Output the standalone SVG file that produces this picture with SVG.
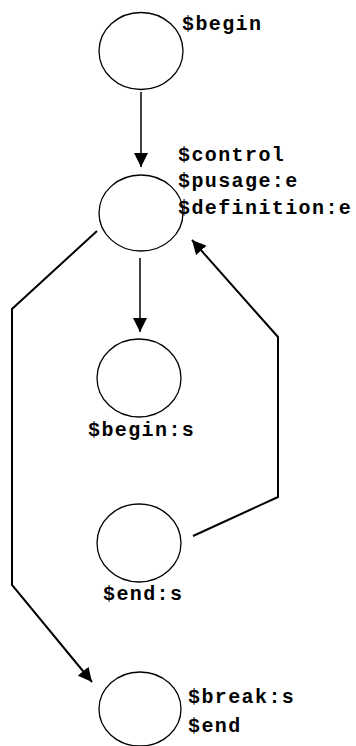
<svg xmlns="http://www.w3.org/2000/svg" width="356" height="746" viewBox="0 0 356 746">
<style>
.node ellipse{fill:#fff;stroke:#000;stroke-width:1.3}
.lbl{font-family:"Liberation Mono","Courier New",monospace;font-weight:bold;font-size:20px;letter-spacing:1.4px;fill:#000}
.edge{fill:none;stroke:#000;stroke-width:2}
.thin{stroke-width:1.5}
</style>
<defs>
<marker id="ah" markerUnits="userSpaceOnUse" markerWidth="15" markerHeight="14" refX="14" refY="7" orient="auto" viewBox="0 0 15 14">
<path d="M0,0 L14,7 L0,14 Z" fill="#000"/>
</marker>
</defs>
<rect width="356" height="746" fill="#fff"/>
<g id="connectors">
<path class="edge thin" d="M141,92 L141,167" marker-end="url(#ah)"/>
<path class="edge thin" d="M140,258 L140,332" marker-end="url(#ah)"/>
<path class="edge" d="M193,536 L278,497 L278,337 L192,240" marker-end="url(#ah)"/>
<path class="edge" d="M97,231 L12,309 L12,585 L92,682" marker-end="url(#ah)"/>
</g>
<g id="n_begin" class="node">
<ellipse cx="141" cy="51" rx="42" ry="38.5"/>
<text class="lbl" x="182" y="30">$begin</text>
</g>
<g id="n_control" class="node">
<ellipse cx="141" cy="213" rx="42" ry="38"/>
<text class="lbl" x="178" y="161">$control</text>
<text class="lbl" x="178" y="187">$pusage:e</text>
<text class="lbl" x="178" y="214">$definition:e</text>
</g>
<g id="n_begin_s" class="node">
<ellipse cx="139" cy="378" rx="42" ry="39"/>
<text class="lbl" x="88" y="436">$begin:s</text>
</g>
<g id="n_end_s" class="node">
<ellipse cx="139" cy="543" rx="42" ry="39"/>
<text class="lbl" x="103" y="600">$end:s</text>
</g>
<g id="n_break" class="node">
<ellipse cx="140" cy="709" rx="41" ry="37"/>
<text class="lbl" x="188" y="703">$break:s</text>
<text class="lbl" x="188" y="732">$end</text>
</g>
</svg>
